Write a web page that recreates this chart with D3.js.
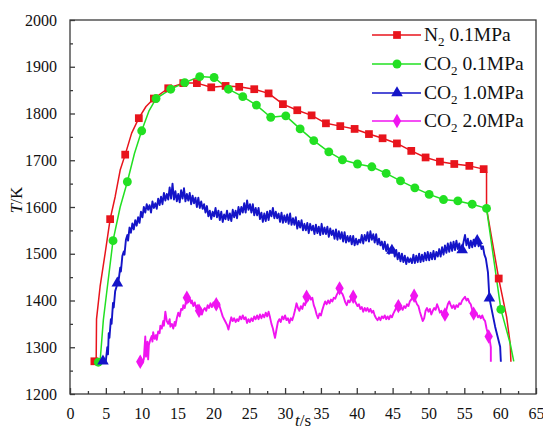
<!DOCTYPE html>
<html>
<head>
<meta charset="utf-8">
<script src="https://cdn.jsdelivr.net/npm/d3@7"></script>
<style>
  body { margin: 0; background: #fff; }
  svg { display: block; font-family: "Liberation Serif", "Times New Roman", serif; }
</style>
</head>
<body>
<div id="chart"></div>
<script>
// [time s, temperature K, marker?]
const n2Data = [
  [3.4,1270,1],[3.65,1270,0],[3.7,1360,0],[4.2,1430,0],[4.9,1501,0],[5.6,1574,1],[6.3,1622,0],[7.0,1679,0],
  [7.7,1712,1],[8.6,1758,0],[9.6,1790,1],[10.6,1815,0],[11.7,1832,1],[13.7,1854,1],[15.8,1865,1],[17.7,1865,1],
  [19.7,1856,1],[21.7,1859,1],[23.6,1857,1],[25.7,1852,1],[27.7,1843,1],[29.7,1820,1],[31.7,1807,1],[33.7,1796,1],
  [35.7,1779,1],[37.7,1773,1],[39.7,1767,1],[41.7,1756,1],[43.6,1747,1],[45.6,1736,1],[47.6,1720,1],[49.6,1706,1],
  [51.6,1697,1],[53.6,1692,1],[55.7,1688,1],[57.7,1681,1],[58.1,1675,0],[58.1,1597,0],[59.8,1447,1],[60.9,1365,0],
  [61.4,1308,0],[61.5,1269,0]
];
const co2Low = [
  [3.95,1268,1],[4.2,1270,0],[4.65,1358,0],[5.1,1415,0],[6.0,1528,1],[7.0,1600,0],[8.0,1654,1],[9.0,1715,0],
  [10.0,1763,1],[11.0,1805,0],[12.0,1832,1],[14.05,1852,1],[16.0,1866,1],[18.1,1879,1],[20.1,1877,1],[22.1,1852,1],
  [24.1,1836,1],[26.0,1818,1],[28.0,1792,1],[30.1,1795,1],[32.1,1767,1],[34.0,1742,1],[36.1,1718,1],[38.0,1701,1],
  [40.1,1692,1],[42.1,1686,1],[44.1,1672,1],[46.1,1656,1],[48.1,1641,1],[50.1,1627,1],[52.1,1616,1],[54.1,1613,1],
  [56.1,1606,1],[58.1,1597,1],[60.1,1381,1],[61.4,1308,0],[61.9,1270,0]
];
const co2Mid = [
  [4.6,1270,1],[4.9,1268,0],[5.0,1271,0],[5.2,1300,0],[5.3,1285,0],[5.4,1330,0],[5.5,1320,0],[5.7,1360,0],
  [5.8,1350,0],[6.0,1395,0],[6.1,1385,0],[6.3,1420,0],[6.5,1430,0],[6.6,1437,1],[6.8,1445,0],[7.0,1470,0],
  [7.1,1462,0],[7.3,1495,0],[7.5,1505,0],[7.6,1498,0],[7.8,1530,0],[8.0,1540,0],[8.1,1528,0],[8.3,1556,0],
  [8.5,1545,0],[8.7,1565,0],[8.9,1552,0],[9.1,1572,0],[9.3,1560,0],[9.5,1578,0],[9.7,1566,0],[9.9,1590,0],
  [10.1,1578,0],[10.3,1600,0],[10.5,1588,0],[10.7,1606,0],[10.9,1594,0],[11.1,1604,0],[11.3,1588,0],[11.5,1612,0],
  [11.7,1598,0],[11.9,1608,0],[12.1,1596,0],[12.3,1618,0],[12.5,1604,0],[12.7,1622,0],[12.9,1606,0],[13.1,1630,0],
  [13.3,1614,0],[13.5,1628,0],[13.7,1616,0],[13.9,1642,0],[14.1,1618,0],[14.3,1650,0],[14.5,1616,0],[14.7,1634,0],
  [14.9,1612,0],[15.1,1628,0],[15.3,1610,0],[15.5,1636,0],[15.7,1618,0],[15.9,1640,0],[16.1,1612,0],[16.3,1628,0],
  [16.5,1614,0],[16.7,1630,0],[16.9,1606,0],[17.1,1624,0],[17.3,1608,0],[17.5,1620,0],[17.7,1600,0],[17.9,1620,0],
  [18.1,1598,0],[18.3,1612,0],[18.5,1596,0],[18.7,1606,0],[18.9,1588,0],[19.1,1602,0],[19.3,1580,0],[19.5,1592,0],
  [19.7,1574,0],[19.9,1590,0],[20.1,1580,0],[20.3,1598,0],[20.5,1578,0],[20.7,1592,0],[20.9,1572,0],[21.1,1590,0],
  [21.3,1568,0],[21.5,1584,0],[21.7,1574,0],[21.9,1592,0],[22.1,1572,0],[22.3,1586,0],[22.5,1570,0],[22.7,1594,0],
  [22.9,1578,0],[23.1,1592,0],[23.3,1576,0],[23.5,1600,0],[23.7,1584,0],[23.9,1600,0],[24.1,1588,0],[24.3,1608,0],
  [24.5,1588,0],[24.7,1614,0],[24.9,1594,0],[25.1,1606,0],[25.3,1588,0],[25.5,1606,0],[25.7,1582,0],[25.9,1598,0],
  [26.1,1582,0],[26.3,1598,0],[26.5,1574,0],[26.7,1588,0],[26.9,1568,0],[27.1,1586,0],[27.3,1570,0],[27.5,1590,0],
  [27.7,1572,0],[27.9,1592,0],[28.1,1580,0],[28.3,1598,0],[28.5,1576,0],[28.7,1590,0],[28.9,1576,0],[29.1,1586,0],
  [29.3,1568,0],[29.5,1588,0],[29.7,1566,0],[29.9,1582,0],[30.1,1568,0],[30.3,1584,0],[30.5,1564,0],[30.7,1586,0],
  [30.9,1562,0],[31.1,1576,0],[31.3,1562,0],[31.5,1578,0],[31.7,1554,0],[31.9,1570,0],[32.1,1556,0],[32.3,1572,0],
  [32.5,1550,0],[32.7,1564,0],[32.9,1550,0],[33.1,1566,0],[33.3,1544,0],[33.5,1564,0],[33.7,1550,0],[33.9,1560,0],
  [34.1,1542,0],[34.3,1562,0],[34.5,1544,0],[34.7,1558,0],[34.9,1540,0],[35.1,1564,0],[35.3,1542,0],[35.5,1556,0],
  [35.7,1542,0],[35.9,1558,0],[36.1,1536,0],[36.3,1554,0],[36.5,1540,0],[36.7,1550,0],[36.9,1532,0],[37.1,1552,0],
  [37.3,1530,0],[37.5,1548,0],[37.7,1532,0],[37.9,1546,0],[38.1,1526,0],[38.3,1546,0],[38.5,1524,0],[38.7,1538,0],
  [38.9,1526,0],[39.1,1538,0],[39.3,1520,0],[39.5,1538,0],[39.7,1518,0],[39.9,1532,0],[40.1,1520,0],[40.3,1530,0],
  [40.5,1524,0],[40.7,1540,0],[40.9,1522,0],[41.1,1540,0],[41.3,1528,0],[41.5,1546,0],[41.7,1526,0],[41.9,1548,0],
  [42.1,1530,0],[42.3,1542,0],[42.5,1524,0],[42.7,1542,0],[42.9,1520,0],[43.1,1532,0],[43.3,1518,0],[43.5,1526,0],
  [43.7,1510,0],[43.9,1526,0],[44.1,1506,0],[44.3,1520,0],[44.5,1500,0],[44.7,1512,0],[44.9,1507,1],[45.1,1512,0],
  [45.3,1494,0],[45.5,1508,0],[45.7,1488,0],[45.9,1502,0],[46.1,1484,0],[46.3,1500,0],[46.5,1482,0],[46.7,1496,0],
  [46.9,1478,0],[47.1,1492,0],[47.3,1482,0],[47.5,1490,0],[47.7,1480,0],[47.9,1498,0],[48.1,1480,0],[48.3,1496,0],
  [48.5,1482,0],[48.7,1500,0],[48.9,1482,0],[49.1,1498,0],[49.3,1484,0],[49.5,1502,0],[49.7,1486,0],[49.9,1504,0],
  [50.1,1486,0],[50.3,1502,0],[50.5,1488,0],[50.7,1506,0],[50.9,1488,0],[51.1,1504,0],[51.3,1494,0],[51.5,1510,0],
  [51.7,1494,0],[51.9,1514,0],[52.1,1498,0],[52.3,1518,0],[52.5,1502,0],[52.7,1522,0],[52.9,1504,0],[53.1,1524,0],
  [53.3,1506,0],[53.5,1526,0],[53.7,1508,0],[53.9,1528,0],[54.1,1510,0],[54.3,1522,0],[54.5,1504,0],[54.7,1508,1],
  [54.9,1526,0],[55.1,1540,0],[55.3,1518,0],[55.5,1532,0],[55.7,1512,0],[55.9,1528,0],[56.1,1514,0],[56.3,1530,0],
  [56.5,1516,0],[56.8,1528,1],[57.0,1516,0],[57.2,1526,0],[57.4,1510,0],[57.6,1516,0],[57.8,1498,0],[58.0,1490,0],
  [58.3,1460,0],[58.5,1405,1],[59.3,1344,0],[60.0,1301,0],[60.1,1269,0]
];
const co2High = [
  [9.8,1269,1],[10.1,1266,0],[10.3,1275,0],[10.4,1300,0],[10.5,1323,0],[10.6,1280,0],[10.8,1312,0],[10.9,1274,0],
  [11.0,1305,0],[11.2,1316,0],[11.4,1324,0],[11.5,1312,0],[11.6,1332,0],[11.8,1318,0],[12.0,1326,0],[12.1,1316,0],
  [12.3,1334,0],[12.5,1330,0],[12.6,1346,0],[12.8,1340,0],[13.0,1356,0],[13.1,1346,0],[13.3,1376,0],[13.5,1356,0],
  [13.7,1350,0],[13.9,1360,0],[14.0,1344,0],[14.2,1350,0],[14.4,1340,0],[14.6,1354,0],[14.7,1346,0],[14.9,1362,0],
  [15.1,1374,0],[15.3,1366,0],[15.5,1382,0],[15.7,1380,0],[15.8,1390,0],[16.0,1384,0],[16.2,1400,0],[16.3,1406,1],
  [16.5,1396,0],[16.7,1404,0],[16.9,1394,0],[17.0,1400,0],[17.2,1388,0],[17.4,1396,0],[17.6,1384,0],[17.8,1390,0],
  [18.0,1378,1],[18.2,1384,0],[18.4,1370,0],[18.6,1380,0],[18.8,1384,0],[19.0,1378,0],[19.2,1390,0],[19.4,1384,0],
  [19.6,1394,0],[19.8,1386,0],[20.0,1396,0],[20.2,1390,0],[20.4,1392,1],[20.6,1388,0],[20.8,1394,0],[20.9,1386,0],
  [21.1,1376,0],[21.3,1366,0],[21.5,1360,0],[21.7,1354,0],[21.9,1348,0],[22.1,1338,0],[22.3,1352,0],[22.5,1364,0],
  [22.7,1356,0],[22.9,1362,0],[23.1,1354,0],[23.3,1360,0],[23.5,1356,0],[23.7,1366,0],[23.9,1360,0],[24.1,1368,0],
  [24.3,1360,0],[24.5,1364,0],[24.7,1352,0],[24.9,1360,0],[25.1,1354,0],[25.3,1362,0],[25.5,1356,0],[25.7,1366,0],
  [25.9,1360,0],[26.1,1368,0],[26.3,1360,0],[26.5,1370,0],[26.7,1362,0],[26.9,1370,0],[27.1,1364,0],[27.3,1374,0],
  [27.5,1366,0],[27.7,1376,0],[27.9,1364,0],[28.1,1350,0],[28.3,1340,0],[28.5,1326,0],[28.6,1320,0],[28.8,1338,0],
  [29.0,1354,0],[29.2,1360,0],[29.4,1354,0],[29.6,1366,0],[29.8,1360,0],[30.0,1368,0],[30.2,1358,0],[30.4,1362,0],
  [30.6,1352,0],[30.8,1362,0],[31.0,1358,0],[31.2,1368,0],[31.4,1380,0],[31.6,1394,0],[31.8,1384,0],[32.0,1378,0],
  [32.2,1388,0],[32.4,1382,0],[32.6,1394,0],[32.8,1390,0],[33.0,1408,1],[33.2,1400,0],[33.4,1410,0],[33.6,1402,0],
  [33.8,1406,0],[34.0,1390,0],[34.2,1382,0],[34.4,1370,0],[34.6,1362,0],[34.8,1372,0],[35.0,1368,0],[35.2,1380,0],
  [35.4,1390,0],[35.6,1398,0],[35.8,1392,0],[36.0,1400,0],[36.2,1394,0],[36.4,1402,0],[36.6,1398,0],[36.8,1406,0],
  [37.0,1404,0],[37.2,1412,0],[37.4,1418,0],[37.6,1426,1],[37.8,1418,0],[38.0,1414,0],[38.2,1406,0],[38.4,1396,0],
  [38.6,1390,0],[38.8,1400,0],[39.0,1396,0],[39.2,1404,0],[39.5,1408,1],[39.7,1400,0],[39.9,1394,0],[40.1,1388,0],
  [40.3,1392,0],[40.5,1382,0],[40.7,1386,0],[40.9,1376,0],[41.1,1384,0],[41.3,1378,0],[41.5,1384,0],[41.7,1376,0],
  [41.9,1382,0],[42.1,1374,0],[42.3,1378,0],[42.5,1368,0],[42.7,1362,0],[42.9,1358,0],[43.1,1364,0],[43.3,1358,0],
  [43.5,1366,0],[43.7,1362,0],[43.9,1368,0],[44.1,1360,0],[44.3,1366,0],[44.5,1360,0],[44.7,1368,0],[44.9,1364,0],
  [45.1,1372,0],[45.3,1378,0],[45.5,1384,0],[45.8,1388,1],[46.0,1380,0],[46.2,1386,0],[46.4,1380,0],[46.6,1388,0],
  [46.8,1384,0],[47.0,1392,0],[47.2,1388,0],[47.4,1398,0],[47.6,1402,0],[47.8,1408,0],[48.0,1410,1],[48.2,1400,0],
  [48.4,1392,0],[48.6,1388,0],[48.8,1376,0],[49.0,1366,0],[49.2,1356,0],[49.4,1362,0],[49.6,1378,0],[49.8,1384,0],
  [50.0,1376,0],[50.2,1382,0],[50.4,1370,0],[50.6,1378,0],[50.8,1384,0],[51.0,1380,0],[51.2,1392,0],[51.4,1384,0],
  [51.6,1374,0],[51.8,1378,0],[52.0,1368,0],[52.3,1370,1],[52.5,1380,0],[52.7,1392,0],[52.9,1398,0],[53.1,1390,0],
  [53.3,1384,0],[53.5,1390,0],[53.7,1382,0],[53.9,1390,0],[54.1,1386,0],[54.3,1394,0],[54.5,1392,0],[54.7,1400,0],
  [54.9,1404,0],[55.1,1408,0],[55.3,1400,0],[55.5,1404,0],[55.7,1396,0],[55.9,1392,0],[56.1,1380,0],[56.3,1372,1],
  [56.5,1370,0],[56.7,1374,0],[56.9,1364,0],[57.1,1368,0],[57.3,1362,0],[57.5,1368,0],[57.7,1360,0],[57.9,1356,0],
  [58.1,1340,0],[58.4,1323,1],[58.6,1310,0],[58.7,1300,0],[58.7,1269,0]
];

const seriesNames = ['N', 'CO', 'CO', 'CO'];
const seriesPressure = ['0.1MPa', '0.1MPa', '1.0MPa', '2.0MPa'];
const seriesColors = ['#e8141c', '#22e022', '#1414c8', '#f014f0'];
const seriesSymbols = [d3.symbolSquare, d3.symbolCircle, d3.symbolTriangle, d3.symbolDiamond];
const seriesData = [n2Data, co2Low, co2Mid, co2High];

const xTicks = d3.range(0, 66, 5);
const yTicks = d3.range(1200, 2001, 100);

const width = 543;
const height = 429;
const margin = { left: 70, right: 7, top: 20, bottom: 35 };
const serif = '"Liberation Serif", "Times New Roman", serif';

const svg = d3.select('#chart')
  .append('svg')
  .attr('width', width)
  .attr('height', height);

const xScale = d3.scaleLinear().domain([0, 65]).range([margin.left, width - margin.right]);
const yScale = d3.scaleLinear().domain([1200, 2000]).range([height - margin.bottom, margin.top]);

const axisColor = '#3a3a3a';

// frame
svg.append('rect')
  .attr('x', xScale(0))
  .attr('y', yScale(2000))
  .attr('width', xScale(65) - xScale(0))
  .attr('height', yScale(1200) - yScale(2000))
  .attr('fill', 'none')
  .attr('stroke', axisColor)
  .attr('stroke-width', 1.3);

// x axis (ticks inward)
const xAxis = svg.append('g')
  .attr('transform', `translate(0, ${yScale(1200)})`)
  .call(d3.axisBottom(xScale).tickValues(xTicks).tickSizeInner(-6).tickSizeOuter(0).tickPadding(14));
xAxis.select('.domain').remove();
svg.append('g')
  .attr('transform', `translate(0, ${yScale(1200)})`)
  .call(d3.axisBottom(xScale).tickValues(d3.range(2.5, 65, 5)).tickSize(-3).tickFormat(''))
  .select('.domain').remove();

// y axis
const yAxis = svg.append('g')
  .attr('transform', `translate(${xScale(0)}, 0)`)
  .call(d3.axisLeft(yScale).tickValues(yTicks).tickFormat(d3.format('d'))
    .tickSizeInner(-5).tickSizeOuter(0).tickPadding(13));
yAxis.select('.domain').remove();
svg.append('g')
  .attr('transform', `translate(${xScale(0)}, 0)`)
  .call(d3.axisLeft(yScale).tickValues(d3.range(1250, 2000, 100)).tickSize(-3).tickFormat(''))
  .select('.domain').remove();

xAxis.attr('font-family', serif).attr('font-size', 16);
yAxis.attr('font-family', serif).attr('font-size', 16);
svg.selectAll('.tick line').attr('stroke', axisColor).attr('stroke-width', 1.3);
svg.selectAll('.tick text').attr('fill', '#111');

// axis titles
svg.append('text')
  .attr('x', (xScale(0) + xScale(65)) / 2)
  .attr('y', 426)
  .attr('text-anchor', 'middle')
  .style('font-size', '17px')
  .attr('fill', '#111')
  .html('<tspan font-style="italic">t</tspan>/s');

svg.append('text')
  .attr('transform', `translate(22, ${yScale(1615)}) rotate(-90)`)
  .attr('text-anchor', 'middle')
  .style('font-size', '17px')
  .attr('fill', '#111')
  .html('<tspan font-style="italic">T</tspan>/K');

// series
const line = d3.line()
  .x(d => xScale(d[0]))
  .y(d => yScale(d[1]));

const plot = svg.append('g');
const symbolSizes = [60, 62, 58, 60];

seriesData.forEach((data, i) => {
  plot.append('path')
    .datum(data)
    .attr('d', line)
    .attr('fill', 'none')
    .attr('stroke', seriesColors[i])
    .attr('stroke-width', i >= 2 ? 1.9 : 1.5)
    .attr('stroke-linejoin', 'round');
});

seriesData.forEach((data, i) => {
  plot.selectAll(null)
    .data(data.filter(d => d[2] === 1))
    .join('path')
      .attr('transform', d => `translate(${xScale(d[0])}, ${yScale(d[1])})`)
      .attr('d', d3.symbol().type(seriesSymbols[i]).size(symbolSizes[i]))
      .attr('fill', seriesColors[i]);
});

// legend
const legend = svg.append('g');
const legendRows = [35, 64, 93, 121];
seriesNames.forEach((name, i) => {
  const row = legend.append('g').attr('transform', `translate(0, ${legendRows[i]})`);
  row.append('line')
    .attr('x1', 372).attr('x2', 421)
    .attr('stroke', seriesColors[i])
    .attr('stroke-width', 1.5);
  row.append('path')
    .attr('transform', 'translate(397, 0)')
    .attr('d', d3.symbol().type(seriesSymbols[i]).size(symbolSizes[i]))
    .attr('fill', seriesColors[i]);
  const txt = row.append('text')
    .attr('x', 424)
    .attr('y', 6)
    .style('font-size', '19.5px')
    .attr('fill', '#111');
  txt.append('tspan').text(name);
  txt.append('tspan').attr('dy', 5).style('font-size', '13px').text('2');
  txt.append('tspan').attr('dy', -5).text(' ' + seriesPressure[i]);
});
</script>
</body>
</html>
